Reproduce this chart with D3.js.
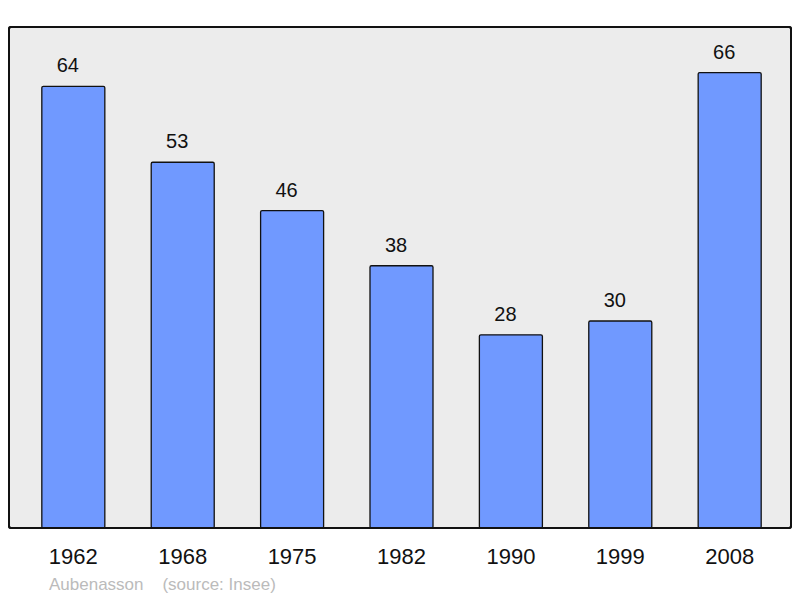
<!DOCTYPE html>
<html><head><meta charset="utf-8">
<script src="https://cdn.jsdelivr.net/npm/d3@7"></script>
<style>body{margin:0;background:#fff}svg{display:block}</style>
</head><body>
<script>
const years = ["1962","1968","1975","1982","1990","1999","2008"];
const population = [64,53,46,38,28,30,66];
const placeName = "Aubenasson";
const sourceText = "(source: Insee)";

const W = 800, H = 598;
const frame = {x0: 9, y0: 27, x1: 791, y1: 528};
const svg = d3.select("body").append("svg").attr("width", W).attr("height", H);

svg.append("rect").attr("x", frame.x0).attr("y", frame.y0)
  .attr("width", frame.x1 - frame.x0).attr("height", frame.y1 - frame.y0)
  .attr("rx", 2).attr("fill", "#ececec").attr("stroke", "#111").attr("stroke-width", 2);

const x = d3.scaleBand().domain(years).range([9, 794]).paddingInner(0.424).paddingOuter(0.3);
const y = d3.scaleLinear().domain([0, d3.max(population) * 1.1]).range([frame.y1, frame.y0]);

const g = svg.append("g");
g.selectAll("rect.bar").data(years).join("rect").attr("class", "bar")
  .attr("x", d => x(d)).attr("width", x.bandwidth())
  .attr("y", (d, i) => y(population[i]))
  .attr("height", (d, i) => frame.y1 - y(population[i]))
  .attr("rx", 1.5)
  .attr("fill", "#7099ff").attr("stroke", "#111").attr("stroke-width", 1.3);

g.selectAll("text.val").data(years).join("text").attr("class", "val")
  .attr("x", d => x(d) + x.bandwidth() / 2)
  .attr("dx", -5.5)
  .attr("y", (d, i) => y(population[i]) - 14)
  .attr("text-anchor", "middle").attr("font-family", "Liberation Sans, Arial, sans-serif")
  .attr("font-size", 20).attr("fill", "#111")
  .text((d, i) => population[i]);

svg.append("rect").attr("x", frame.x0).attr("y", frame.y0)
  .attr("width", frame.x1 - frame.x0).attr("height", frame.y1 - frame.y0)
  .attr("rx", 2).attr("fill", "none").attr("stroke", "#111").attr("stroke-width", 2);

const xAxis = d3.axisBottom(x).tickSize(0).tickPadding(0);
const ax = svg.append("g").attr("transform", `translate(0,${frame.y1})`).call(xAxis);
ax.select(".domain").remove();
ax.selectAll("text").attr("font-family", "Liberation Sans, Arial, sans-serif")
  .attr("font-size", 22).attr("fill", "#111").attr("dy", null).attr("y", 36);

svg.append("text").attr("x", 49).attr("y", 590)
  .attr("font-family", "Liberation Sans, Arial, sans-serif").attr("font-size", 17)
  .attr("fill", "#bbb").attr("xml:space", "preserve")
  .text(placeName + "    " + sourceText);
</script>
</body></html>
